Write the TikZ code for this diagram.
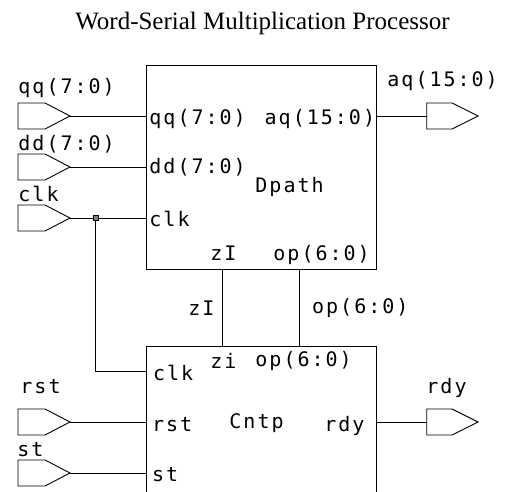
\documentclass[tikz,border=0pt]{standalone}
\usepackage{fontspec}
\setmainfont{Liberation Serif}
\newfontfamily\hf[LetterSpace=10]{DejaVu Sans Mono}
\begin{document}
\begin{tikzpicture}[x=1bp,y=-1bp,line width=0.9bp,
  lbl/.style={inner sep=0,anchor=base west,font=\hf\fontsize{20bp}{22bp}\selectfont},
  lblr/.style={lbl,anchor=base east},
  blk/.style={draw,rectangle,inner sep=0},
  inport/.pic={\draw (-52,-13) -- (-25,-13) -- (0,0) -- (-25,13) -- (-52,13) -- cycle;},
  outport/.pic={\draw (0,-13) -- (25.3,-13) -- (51.3,0) -- (25.3,13) -- (0,13) -- cycle;}]
\clip (0,0) rectangle (511,492);
\node[inner sep=0,anchor=base,font=\fontsize{25bp}{27bp}\selectfont] (title) at (262.5,30) {Word-Serial Multiplication Processor};
% blocks
\node[blk,minimum width=230bp,minimum height=204bp] (dp) at (261.7,167) {};
\node[blk,minimum width=229.5bp,minimum height=170bp] (cn) at (261.5,431) {};
% ports
\coordinate (qqT) at (70,116); \pic at (qqT) {inport};
\coordinate (ddT) at (70,167); \pic at (ddT) {inport};
\coordinate (clkT) at (70,218); \pic at (clkT) {inport};
\coordinate (rstT) at (70,422); \pic at (rstT) {inport};
\coordinate (stT) at (70,473); \pic at (stT) {inport};
\coordinate (aqT) at (426.7,116); \pic at (aqT) {outport};
\coordinate (rdyT) at (426.7,422); \pic at (rdyT) {outport};
% connectors
\draw (qqT) -- (dp.west |- qqT);
\draw (ddT) -- (dp.west |- ddT);
\draw (clkT) -- (dp.west |- clkT);
\draw (rstT) -- (cn.west |- rstT);
\draw (stT) -- (cn.west |- stT);
\draw (dp.east |- aqT) -- (aqT);
\draw (cn.east |- rdyT) -- (rdyT);
\coordinate (cclk) at (146.7,371);
\node[draw,fill=gray,minimum size=5bp,inner sep=0,line width=0.8bp] (j) at (95.7,218) {};
\draw (j.south) |- (cclk);
\path (dp.south) ++(-39,0) coordinate (zIa);
\path (cn.north) ++(-38.8,0) coordinate (zIb);
\path (dp.south) ++(37.6,0) coordinate (opa);
\path (cn.north) ++(37.8,0) coordinate (opb);
\draw (zIa) -- (zIb);
\draw (opa) -- (opb);
% outer labels
\node[lbl] (lqq) at (18,93.3) {qq(7:0)};
\node[lbl] (ldd) at (18,150.7) {dd(7:0)};
\node[lbl] (lclk) at (18,201.7) {clk};
\node[lbl] (lrst) at (20,393.3) {rst};
\node[lbl] (lst) at (17,456.7) {st};
\node[lbl] (laq) at (387,87) {aq(15:0)};
\node[lbl] (lrdy) at (426,393) {rdy};
\node[lblr] (lzI) at (215,315) {zI};
\node[lbl] (lop) at (311.7,313.3) {op(6:0)};
% Dpath pins
\node[lbl] (pqq) at (149,125) {qq(7:0)};
\node[lbl] (pdd) at (149,173.3) {dd(7:0)};
\node[lbl] (pclk) at (149,226.7) {clk};
\node[lblr] (paq) at (375.5,125) {aq(15:0)};
\node[lbl] (pdp) at (255,193) {Dpath};
\node[lbl] (pzI) at (210,260) {zI};
\node[lbl] (pop) at (273,260) {op(6:0)};
% Cntp pins
\node[lbl] (czi) at (210,368) {zi};
\node[lbl] (cop) at (255,366.7) {op(6:0)};
\node[lbl] (cclkl) at (152.7,380) {clk};
\node[lbl] (crst) at (151.7,431.7) {rst};
\node[lbl] (cst) at (151.7,481.7) {st};
\node[lbl] (ccn) at (229,428.3) {Cntp};
\node[lblr] (crdy) at (365,431) {rdy};
\end{tikzpicture}
\end{document}
